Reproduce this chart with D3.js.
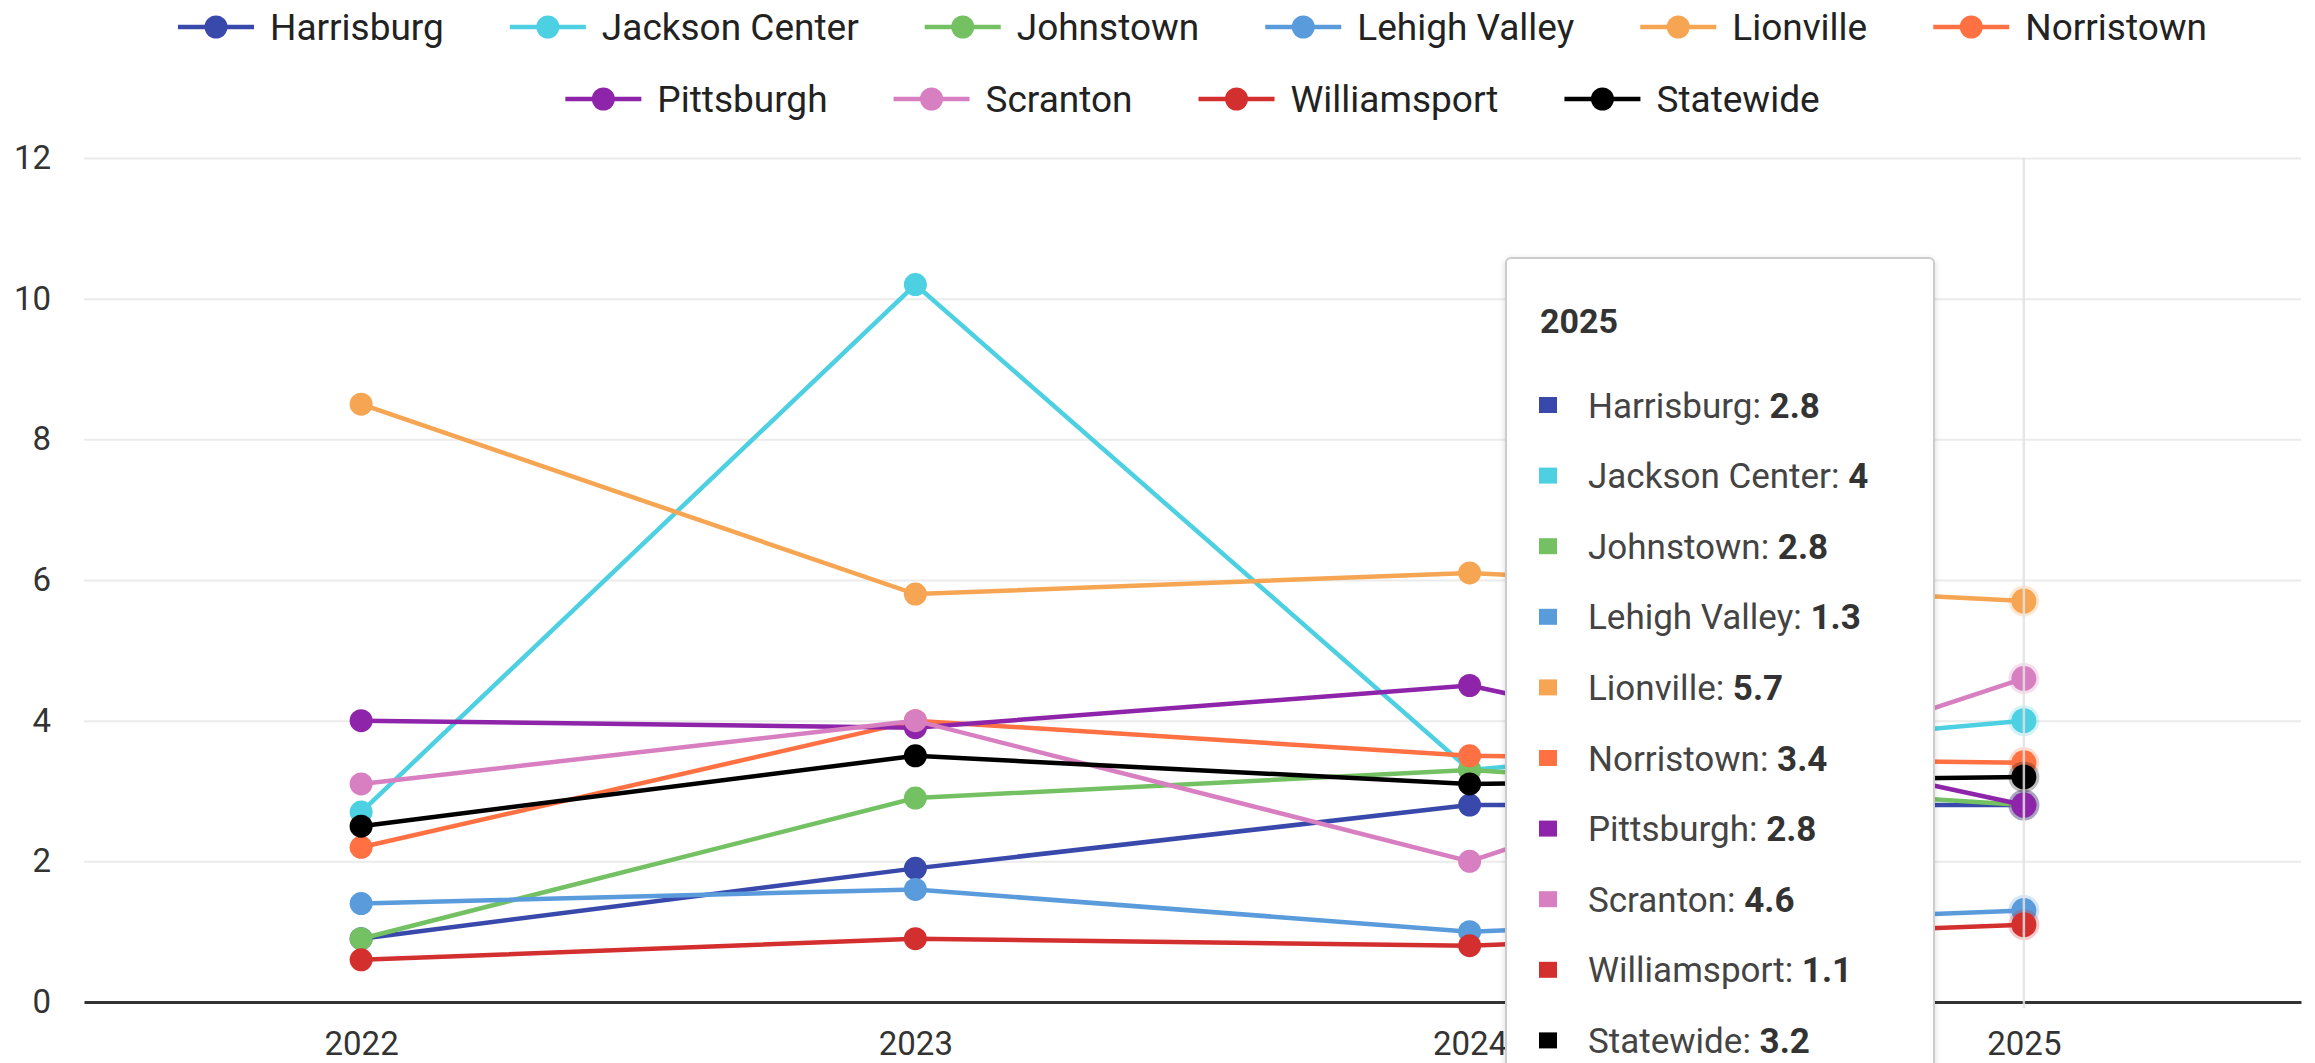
<!DOCTYPE html>
<html>
<head>
<meta charset="utf-8">
<script src="https://cdn.jsdelivr.net/npm/d3@7"></script>
<style>
  html, body { margin: 0; padding: 0; background: #fff; }
  svg { display: block; font-family: Roboto, "Noto Sans", sans-serif; }
</style>
</head>
<body>
<div id="chart"></div>
<script>
// data
let years = ["2022", "2023", "2024", "2025"];
let sites = ["Harrisburg", "Jackson Center", "Johnstown", "Lehigh Valley", "Lionville",
             "Norristown", "Pittsburgh", "Scranton", "Williamsport", "Statewide"];
let siteColors = ["#3949ab", "#4dd0e1", "#74c163", "#5a9bdc", "#f6a553",
                  "#ff7043", "#8e24aa", "#d87fc1", "#d32f2f", "#000000"];

let harrisburg    = [0.9, 1.9, 2.8, 2.8];
let jacksonCenter = [2.7, 10.2, 3.3, 4.0];
let johnstown     = [0.9, 2.9, 3.3, 2.8];
let lehighValley  = [1.4, 1.6, 1.0, 1.3];
let lionville     = [8.5, 5.8, 6.1, 5.7];
let norristown    = [2.2, 4.0, 3.5, 3.4];
let pittsburgh    = [4.0, 3.9, 4.5, 2.8];
let scranton      = [3.1, 4.0, 2.0, 4.6];
let williamsport  = [0.6, 0.9, 0.8, 1.1];
let statewide     = [2.5, 3.5, 3.1, 3.2];

let yTicks = [0, 2, 4, 6, 8, 10, 12];
let hoverYear = "2025";

let allValues = [harrisburg, jacksonCenter, johnstown, lehighValley, lionville,
                 norristown, pittsburgh, scranton, williamsport, statewide];

let series = sites.map((name, i) => ({
    name: name,
    color: siteColors[i],
    points: years.map((yr, j) => ({ year: yr, value: allValues[i][j] }))
}));

let width = 2315, height = 1063;
let plot = { left: 84, right: 2301, top: 158, bottom: 1002 };

let svg = d3.select("#chart")
    .append("svg")
    .attr("width", width)
    .attr("height", height);

let x = d3.scalePoint()
    .domain(years)
    .range([plot.left, plot.right])
    .padding(0.5);

let y = d3.scaleLinear()
    .domain([0, 12])
    .range([plot.bottom, plot.top]);

// gridlines + y labels
let yAxis = svg.append("g")
    .attr("transform", `translate(${plot.left},0)`)
    .call(d3.axisLeft(y).tickValues(yTicks).tickSize(-(plot.right - plot.left)).tickPadding(33));
yAxis.select(".domain").remove();
yAxis.selectAll(".tick line")
    .attr("stroke", d => d === 0 ? "none" : "#ebebeb")
    .attr("stroke-width", 2);
yAxis.selectAll(".tick text")
    .style("font-size", "33px")
    .style("font-family", "Roboto")
    .attr("fill", "#333");

// x axis (baseline)
let xAxis = svg.append("g")
    .attr("transform", `translate(0,${plot.bottom})`)
    .call(d3.axisBottom(x).tickSize(0).tickSizeOuter(0).tickPadding(30));
xAxis.select(".domain")
    .attr("stroke", "#333")
    .attr("stroke-width", 3);
xAxis.selectAll(".tick text")
    .style("font-size", "33px")
    .style("font-family", "Roboto")
    .attr("fill", "#333");

// lines
let line = d3.line()
    .x(d => x(d.year))
    .y(d => y(d.value));

let groups = svg.append("g").selectAll("g.series")
    .data(series)
    .enter()
    .append("g")
    .attr("class", "series");

groups.append("path")
    .attr("d", d => line(d.points))
    .attr("fill", "none")
    .attr("stroke", d => d.color)
    .attr("stroke-width", 4.5);

groups.selectAll("circle.pt")
    .data(d => d.points.filter(p => p.year !== hoverYear).map(p => ({ ...p, color: d.color })))
    .enter()
    .append("circle")
    .attr("class", "pt")
    .attr("cx", d => x(d.year))
    .attr("cy", d => y(d.value))
    .attr("r", 11.5)
    .attr("fill", d => d.color);

// hovered year: bigger markers with a soft halo
let hovered = groups.selectAll("g.hov")
    .data(d => d.points.filter(p => p.year === hoverYear).map(p => ({ ...p, color: d.color })))
    .enter()
    .append("g")
    .attr("class", "hov");
hovered.append("circle")
    .attr("cx", d => x(d.year))
    .attr("cy", d => y(d.value))
    .attr("r", 15.5)
    .attr("fill", d => d.color)
    .attr("opacity", 0.25);
hovered.append("circle")
    .attr("cx", d => x(d.year))
    .attr("cy", d => y(d.value))
    .attr("r", 12.5)
    .attr("fill", d => d.color);

// crosshair
svg.append("line")
    .attr("x1", x(hoverYear)).attr("x2", x(hoverYear))
    .attr("y1", plot.top).attr("y2", plot.bottom + 6)
    .attr("stroke", "#e2e2e2")
    .attr("stroke-opacity", 0.85)
    .attr("stroke-width", 2.5);

// legend, two centred rows
let legendRows = [sites.slice(0, 6), sites.slice(6)];
let legendY = [27, 99];
let legend = svg.append("g");
let symW = 76, symGap = 16, itemGap = 66;
let centerX = (plot.left + plot.right) / 2;

legendRows.forEach((row, r) => {
    let rowG = legend.append("g");
    let cursor = 0;
    row.forEach(name => {
        let i = sites.indexOf(name);
        let item = rowG.append("g").attr("transform", `translate(${cursor},${legendY[r]})`);
        item.append("line")
            .attr("x1", 0).attr("x2", symW)
            .attr("stroke", siteColors[i])
            .attr("stroke-width", 4.5);
        item.append("circle")
            .attr("cx", symW / 2)
            .attr("r", 11.5)
            .attr("fill", siteColors[i]);
        let t = item.append("text")
            .attr("x", symW + symGap)
            .attr("dy", "0.35em")
            .style("font-size", "37px")
            .attr("fill", "#222")
            .text(name);
        cursor += symW + symGap + t.node().getComputedTextLength() + itemGap;
    });
    let rowWidth = cursor - itemGap;
    rowG.attr("transform", `translate(${centerX - rowWidth / 2},0)`);
});

// tooltip for the hovered year
let tipX = 1506, tipY = 258, tipW = 428, tipH = 860;
let defs = svg.append("defs");
defs.append("filter")
    .attr("id", "shadow")
    .attr("x", "-10%").attr("y", "-10%").attr("width", "120%").attr("height", "120%")
    .append("feDropShadow")
    .attr("dx", 0).attr("dy", 2).attr("stdDeviation", 3)
    .attr("flood-color", "#000").attr("flood-opacity", 0.15);

let tip = svg.append("g");
tip.append("rect")
    .attr("x", tipX).attr("y", tipY)
    .attr("width", tipW).attr("height", tipH)
    .attr("rx", 5)
    .attr("fill", "#fff")
    .attr("stroke", "#cccccc")
    .attr("stroke-width", 2)
    .attr("filter", "url(#shadow)");

tip.append("text")
    .attr("x", tipX + 34)
    .attr("y", tipY + 75)
    .style("font-size", "34px")
    .style("font-weight", "bold")
    .attr("fill", "#333")
    .text(hoverYear);

let hi = years.indexOf(hoverYear);
let rows = tip.selectAll("g.row")
    .data(series)
    .enter()
    .append("g")
    .attr("class", "row")
    .attr("transform", (d, i) => `translate(${tipX + 33},${405 + i * 70.6})`);

rows.append("rect")
    .attr("x", 0).attr("y", -8)
    .attr("width", 18).attr("height", 16)
    .attr("fill", d => d.color);

let rowText = rows.append("text")
    .attr("x", 49)
    .attr("dy", "0.36em")
    .style("font-size", "35px")
    .attr("fill", "#444");
rowText.append("tspan").text(d => d.name + ": ");
rowText.append("tspan")
    .style("font-weight", "bold")
    .attr("fill", "#333")
    .text(d => d3.format("~g")(d.points[hi].value));
</script>
</body>
</html>
